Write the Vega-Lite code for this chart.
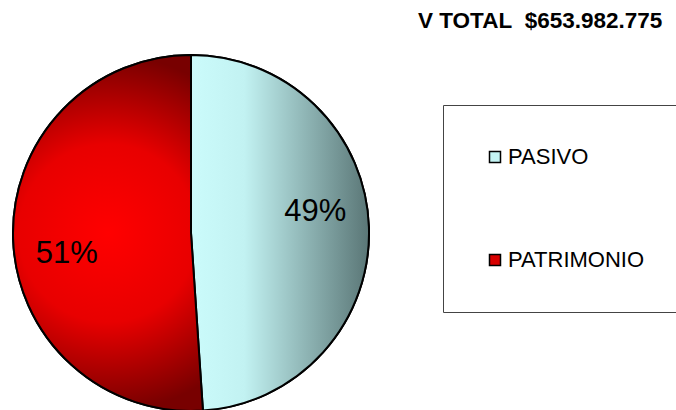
{
  "$schema": "https://vega.github.io/schema/vega-lite/v6.json",
  "autosize": "none",
  "width": 358,
  "height": 356,
  "padding": {"left": 12, "top": 55, "right": 306, "bottom": 0},
  "background": "white",
  "title": {
    "text": "V TOTAL\u00a0 $653.982.775",
    "anchor": "start",
    "frame": "group",
    "dx": 406,
    "offset": 19,
    "font": "Liberation Sans",
    "fontSize": 22.5,
    "fontWeight": "bold",
    "color": "black"
  },
  "data": {
    "values": [
      {"cuenta": "PASIVO", "valor": 320000000, "orden": 1, "etiqueta": "49%"},
      {"cuenta": "PATRIMONIO", "valor": 333982775, "orden": 2, "etiqueta": "51%"}
    ]
  },
  "encoding": {
    "theta": {"field": "valor", "type": "quantitative", "stack": true},
    "order": {"field": "orden", "type": "ordinal"}
  },
  "layer": [
    {
      "mark": {"type": "arc", "outerRadius": 178, "stroke": "black", "strokeWidth": 2},
      "encoding": {
        "color": {
          "field": "cuenta",
          "type": "nominal",
          "scale": {"domain": ["PASIVO", "PATRIMONIO"], "range": ["#C4F4F4", "#D80000"]},
          "legend": {
            "orient": "none",
            "legendX": 431,
            "legendY": 50,
            "title": null,
            "padding": 41,
            "strokeColor": "#444444",
            "fillColor": "white",
            "symbolType": "square",
            "symbolSize": 121,
            "symbolStrokeColor": "black",
            "symbolStrokeWidth": 1.5,
            "symbolOpacity": 1,
            "labelFont": "Liberation Sans",
            "labelFontSize": 22,
            "labelColor": "black",
            "labelOffset": 2,
            "rowPadding": 81
          }
        }
      }
    },
    {
      "mark": {"type": "arc", "outerRadius": 178, "stroke": "black", "strokeWidth": 2},
      "encoding": {
        "fill": {
          "condition": {
            "test": "datum.cuenta === 'PASIVO'",
            "value": {
              "gradient": "linear",
              "x1": 0, "y1": 0, "x2": 1, "y2": 0,
              "stops": [
                {"offset": 0, "color": "#CBFBFB"},
                {"offset": 0.3, "color": "#C2F2F2"},
                {"offset": 1, "color": "#5A7676"}
              ]
            }
          },
          "value": {
            "gradient": "radial",
            "x1": 0.5, "y1": 0.5, "r1": 0,
            "x2": 0.5, "y2": 0.5, "r2": 0.5,
            "stops": [
              {"offset": 0, "color": "#FF0000"},
              {"offset": 0.5, "color": "#E80000"},
              {"offset": 1, "color": "#780000"}
            ]
          }
        }
      }
    },
    {
      "mark": {"type": "text", "radius": 126, "thetaOffset": -0.13, "font": "Liberation Sans", "fontSize": 31, "color": "black"},
      "encoding": {"text": {"field": "etiqueta", "type": "nominal"}}
    }
  ]
}
